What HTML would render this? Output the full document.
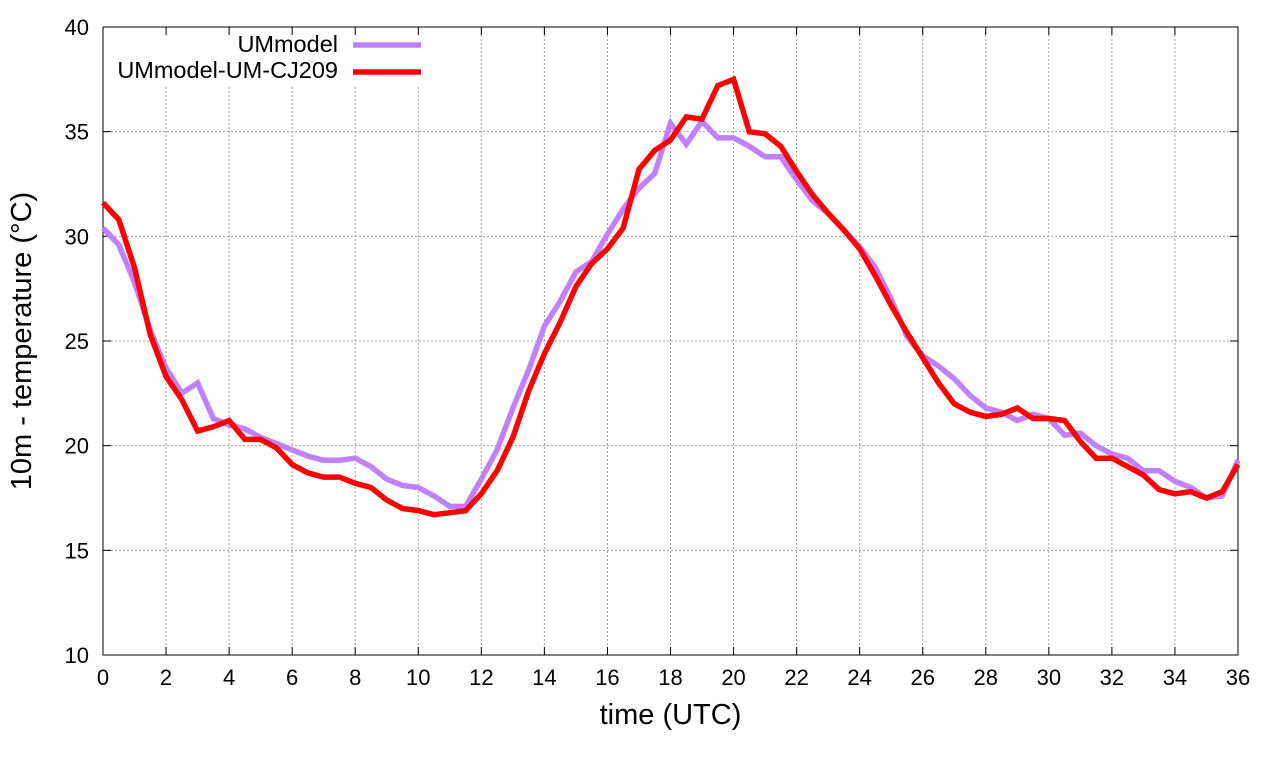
<!DOCTYPE html>
<html><head><meta charset="utf-8">
<style>body{margin:0;background:#fff}svg{display:block;font-family:"Liberation Sans",sans-serif}</style>
</head><body>
<svg id="chart" width="1280" height="760"></svg>
<script>
const xTicks=[0,2,4,6,8,10,12,14,16,18,20,22,24,26,28,30,32,34,36];
const yTicks=[10,15,20,25,30,35,40];
const umModel=[30.4,29.6,27.8,25.5,23.7,22.5,23.0,21.3,21.0,20.8,20.4,20.1,19.8,19.5,19.3,19.3,19.4,19.0,18.4,18.1,18.0,17.6,17.1,17.1,18.4,19.8,21.8,23.6,25.7,26.9,28.3,28.8,30.1,31.3,32.3,33.0,35.4,34.4,35.5,34.7,34.7,34.3,33.8,33.8,32.7,31.7,31.1,30.3,29.5,28.5,27.0,25.2,24.3,23.8,23.2,22.4,21.8,21.6,21.2,21.5,21.3,20.5,20.6,20.0,19.6,19.4,18.8,18.8,18.3,18.0,17.5,17.6,19.3];
const umCJ209=[31.6,30.8,28.5,25.3,23.3,22.2,20.7,20.9,21.2,20.3,20.3,19.9,19.1,18.7,18.5,18.5,18.2,18.0,17.4,17.0,16.9,16.7,16.8,16.9,17.7,18.8,20.4,22.6,24.4,25.9,27.6,28.7,29.4,30.4,33.2,34.1,34.6,35.7,35.6,37.2,37.5,35.0,34.9,34.3,33.1,32.0,31.1,30.3,29.4,28.1,26.7,25.4,24.2,23.0,22.0,21.6,21.4,21.5,21.8,21.3,21.3,21.2,20.2,19.4,19.4,19.0,18.6,17.9,17.7,17.8,17.5,17.8,19.1];
const timeStep=0.5;
const L=103,R=1238,T=27,B=655;
const xs=v=>L+(v-0)/36*(R-L);
const ys=v=>B-(v-10)/30*(B-T);
const svg=document.getElementById('chart');
const NS='http://www.w3.org/2000/svg';
function mk(tag,attrs,parent){const e=document.createElementNS(NS,tag);for(const k in attrs)e.setAttribute(k,attrs[k]);(parent||svg).appendChild(e);return e;}
const grid=mk('g',{});


xTicks.forEach(t=>{if(t>0&&t<36){mk('line',{x1:xs(t),x2:xs(t),y1:T,y2:B,stroke:'#a0a0a0','stroke-width':1,'stroke-dasharray':'2,2'},grid);}});
yTicks.forEach(t=>{if(t>10&&t<40){mk('line',{x1:L,x2:R,y1:ys(t),y2:ys(t),stroke:'#a0a0a0','stroke-width':1,'stroke-dasharray':'2,2'},grid);}});
mk('rect',{x:108,y:30,width:320,height:55,fill:'#fff'});
const axes=mk('g',{});


mk('rect',{x:L,y:T,width:R-L,height:B-T,fill:'none',stroke:'#000','stroke-width':1},axes);
xTicks.forEach(t=>{
  mk('line',{x1:xs(t),x2:xs(t),y1:B,y2:B-8,stroke:'#000'},axes);
  mk('line',{x1:xs(t),x2:xs(t),y1:T,y2:T+8,stroke:'#000'},axes);
  const tx=mk('text',{x:xs(t),y:B+30,'text-anchor':'middle','font-size':22},axes);tx.textContent=t;
  
  
});
yTicks.forEach(t=>{
  mk('line',{x1:L,x2:L+8,y1:ys(t),y2:ys(t),stroke:'#000'},axes);
  mk('line',{x1:R,x2:R-8,y1:ys(t),y2:ys(t),stroke:'#000'},axes);
  const tx=mk('text',{x:L-14,y:ys(t)+8,'text-anchor':'end','font-size':22},axes);tx.textContent=t;
  
  
});
const xt=mk('text',{x:(L+R)/2,y:724,'text-anchor':'middle','font-size':29});xt.textContent='time (UTC)';


const yt=mk('text',{x:0,y:0,'text-anchor':'middle','font-size':29,transform:'translate(31,341) rotate(-90)'});yt.textContent='10m - temperature (°C)';


function series(arr,color,name){
  const d=arr.map((v,i)=>(i?'L':'M')+xs(i*timeStep).toFixed(1)+','+ys(v).toFixed(1)).join('');
  const p=mk('path',{d:d,fill:'none',stroke:color,'stroke-width':5.5,'stroke-linejoin':'miter'});
  
  
}
series(umModel,'#c080ff','series-ummodel');
series(umCJ209,'#ff0000','series-ummodel-um-cj209');
const l1=mk('text',{x:338,y:52,'text-anchor':'end','font-size':23.5});l1.textContent='UMmodel';


mk('line',{x1:353,x2:421,y1:45,y2:45,stroke:'#c080ff','stroke-width':5.5});
const l2=mk('text',{x:338,y:78,'text-anchor':'end','font-size':23.5});l2.textContent='UMmodel-UM-CJ209';


mk('line',{x1:353,x2:421,y1:72,y2:72,stroke:'#ff0000','stroke-width':5.5});
</script>
</body></html>
